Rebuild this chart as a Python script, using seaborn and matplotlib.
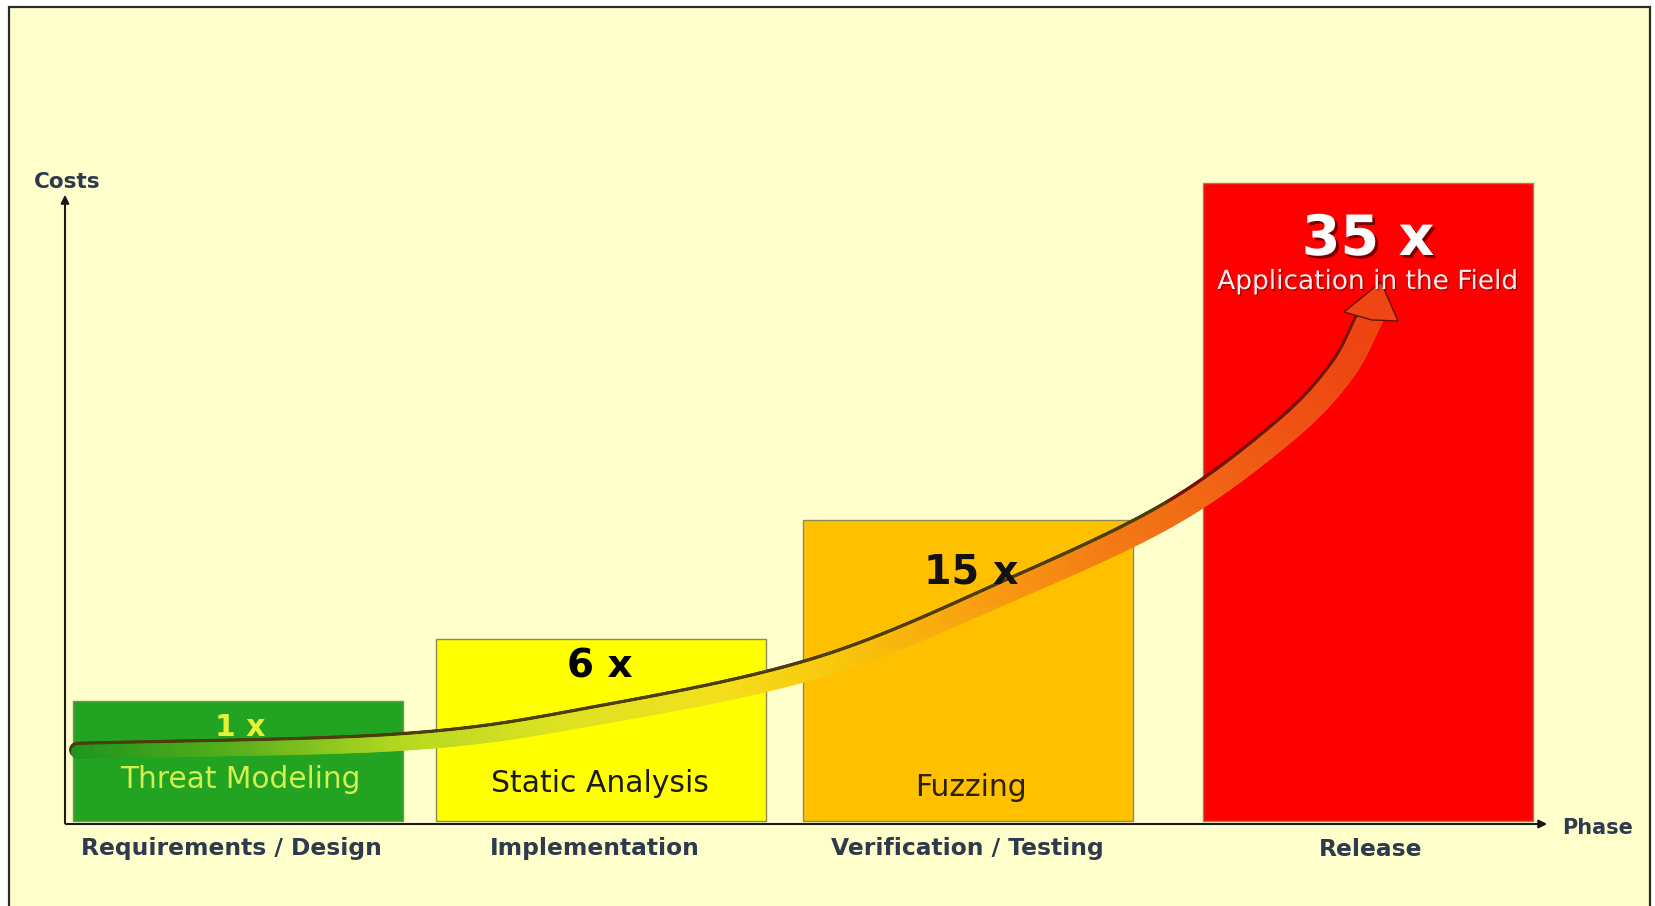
import numpy as np
import pandas as pd
import matplotlib
matplotlib.use("Agg")
import matplotlib.pyplot as plt
import matplotlib.patheffects as pe
from matplotlib.collections import LineCollection
from matplotlib.patches import Rectangle, Polygon
from matplotlib.colors import LinearSegmentedColormap
import seaborn as sns

# ---------------- data ----------------
phases = ["Requirements / Design", "Implementation", "Verification / Testing", "Release"]
activities = ["Threat Modeling", "Static Analysis", "Fuzzing", "Application in the Field"]
cost_factors = [1, 6, 15, 35]
bar_heights = [120, 182, 301, 638]          # relative visual heights of the boxes
bar_centers = [238, 601, 968, 1368]         # phase positions along the time axis
bar_colors = ["#22A422", "#FFFF00", "#FFC000", "#FF0000"]

sns.set_theme(style="white")
plt.rcParams["font.family"] = ["DejaVu Sans"]

W, H = 1655, 906
BASE = 821  # pixel row of bar baseline


def Y(py):
    return BASE - py


fig = plt.figure(figsize=(W / 100, H / 100), dpi=100, facecolor="white")
ax = fig.add_axes([0, 0, 1, 1])

# framed light-yellow panel
ax.add_patch(Rectangle((9, Y(912)), 1650 - 9, 912 - 7, facecolor="#FFFFCC",
                       edgecolor="#2a2a2a", lw=1.6, zorder=0))

df = pd.DataFrame({"pos": bar_centers, "height": bar_heights, "phase": phases})
sns.barplot(data=df, x="pos", y="height", hue="phase", palette=bar_colors,
            native_scale=True, width=330 / 363, dodge=False, errorbar=None,
            saturation=1, legend=False, edgecolor="#8a8a5a", linewidth=1.0,
            ax=ax, zorder=2)

ax.set_xlim(0, W)
ax.set_ylim(Y(H), Y(0))
ax.set_axis_off()

# axes arrows
axis_col = "#1a1a1a"
ax.annotate("", xy=(65, Y(192)), xytext=(65, Y(826)),
            arrowprops=dict(arrowstyle="-|>", color=axis_col, lw=1.5, mutation_scale=12), zorder=3)
ax.annotate("", xy=(1550, Y(824)), xytext=(63, Y(824)),
            arrowprops=dict(arrowstyle="-|>", color=axis_col, lw=1.5, mutation_scale=12), zorder=3)

lab_col = "#2E3A4E"
ax.text(34, Y(182), "Costs", fontsize=15.5, fontweight="bold", color=lab_col,
        ha="left", va="center")
ax.text(1562, Y(828), "Phase", fontsize=15, fontweight="bold", color=lab_col,
        ha="left", va="center")
label_x = [231, 595, 967, 1371]
for lx, ph in zip(label_x, phases):
    ax.text(lx, Y(849), ph, fontsize=16.8, fontweight="bold", color=lab_col,
            ha="center", va="center")

# ---------------- rising cost arrow ----------------
pts = np.array([(78, 752), (403, 743), (600, 716), (820, 668),
                (1013, 590), (1172, 514), (1285, 432), (1342, 372), (1371, 318)], dtype=float)


def catmull_rom(P, n=60):
    P = np.vstack([P[0] - (P[1] - P[0]), P, P[-1] + (P[-1] - P[-2])])
    out = []
    for i in range(1, len(P) - 2):
        p0, p1, p2, p3 = P[i - 1], P[i], P[i + 1], P[i + 2]
        t = np.linspace(0, 1, n, endpoint=False)[:, None]
        out.append(0.5 * ((2 * p1) + (-p0 + p2) * t + (2 * p0 - 5 * p1 + 4 * p2 - p3) * t ** 2
                          + (-p0 + 3 * p1 - 3 * p2 + p3) * t ** 3))
    out.append(P[-2][None, :])
    return np.vstack(out)


curve = catmull_rom(pts)
cx, cy = curve[:, 0], Y(curve[:, 1])
segs = np.stack([np.column_stack([cx[:-1], cy[:-1]]), np.column_stack([cx[1:], cy[1:]])], axis=1)
frac = (cx[:-1] - cx.min()) / (cx.max() - cx.min())
stops = [(0.0, "#1E961E"), (0.12, "#58AE1C"), (0.25, "#B4D820"), (0.37, "#DCE222"),
         (0.50, "#F4E01C"), (0.60, "#F8C40C"), (0.70, "#F8A010"), (0.80, "#F47C14"),
         (0.90, "#F06014"), (1.0, "#EE4412")]
cmap = LinearSegmentedColormap.from_list("rise", stops)
px2pt = 0.72
widths_px = 14 + 11 * frac ** 1.5
shadow_cols = np.where(frac[:, None] > 0.85, np.array([[0.45, 0.08, 0.02, 1.0]]),
                       np.array([[0.30, 0.24, 0.04, 1.0]]))
shadow = LineCollection(segs + np.array([-1.0, 2.2]), colors=shadow_cols,
                        linewidths=(widths_px + 2.0) * px2pt, capstyle="round", zorder=4)
ax.add_collection(shadow)
band = LineCollection(segs, colors=cmap(frac), linewidths=widths_px * px2pt,
                      capstyle="round", zorder=5)
ax.add_collection(band)
head = Polygon([(1344, Y(312)), (1381, Y(282)), (1398, Y(321)), (1372, Y(320))],
               closed=True, facecolor="#F04616", edgecolor="#6a1000", lw=1.0, zorder=6)
ax.add_patch(head)

# ---------------- box labels ----------------
factor_y = [728, 667, 572, 240]
factor_colors = ["#E6F03A", "#000000", "#111111", "#FFFFFF"]
factor_sizes = [21.5, 28, 28.5, 40]
act_y = [780, 783, 787, 282]
act_colors = ["#D6EE4E", "#1a1a1a", "#2a2200", "#F8EEEE"]
act_sizes = [21.3, 21.5, 21.5, 19]
fx = [240, 600, 971, 1368]
for i in range(4):
    eff = None
    if i == 3:
        eff = [pe.withSimplePatchShadow(offset=(2, -2), shadow_rgbFace="#5a0000", alpha=0.8)]
    ax.text(fx[i], Y(factor_y[i]), f"{cost_factors[i]} x", fontsize=factor_sizes[i],
            fontweight="bold", color=factor_colors[i], ha="center", va="center",
            zorder=7, path_effects=eff)
    eff2 = [pe.withSimplePatchShadow(offset=(1, -1), shadow_rgbFace="#700000", alpha=0.6)] if i == 3 else None
    ax.text(fx[i], Y(act_y[i]), activities[i], fontsize=act_sizes[i], color=act_colors[i],
            ha="center", va="center", zorder=7, path_effects=eff2)

fig.savefig("out.png", dpi=100, facecolor="white")
